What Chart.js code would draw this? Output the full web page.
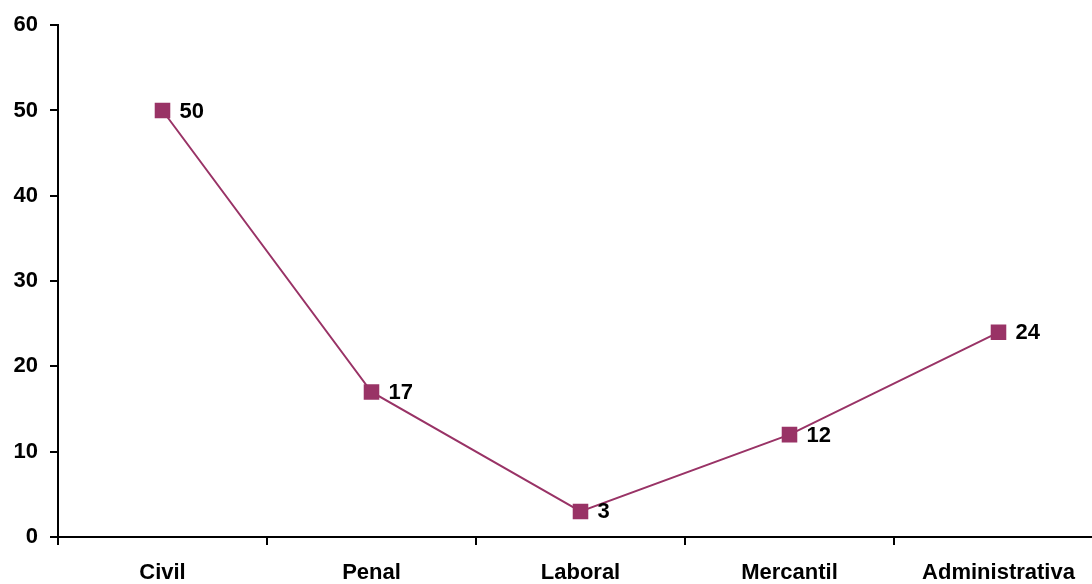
<!DOCTYPE html>
<html>
<head>
<meta charset="utf-8">
<script src="https://cdn.jsdelivr.net/npm/chart.js@4/dist/chart.umd.min.js"></script>
<style>
  html, body { margin: 0; padding: 0; overflow: hidden; background: #fff; }
  canvas { display: block; }
</style>
</head>
<body>
<canvas id="lineChart" width="1104" height="584"></canvas>
<script>
var categories = ["Civil", "Penal", "Laboral", "Mercantil", "Administrativa"];
var values = [50, 17, 3, 12, 24];
var yTicks = [0, 10, 20, 30, 40, 50, 60];

var lineColor = "#993366";
var fontFamily = "'Liberation Sans', Arial, sans-serif";

// draw the value next to each marker
var valueLabels = {
  id: "valueLabels",
  afterDatasetsDraw: function (chart) {
    var ctx = chart.ctx;
    var meta = chart.getDatasetMeta(0);
    ctx.save();
    ctx.font = "bold 22px " + fontFamily;
    ctx.fillStyle = "#000";
    ctx.textAlign = "left";
    ctx.textBaseline = "middle";
    meta.data.forEach(function (pt, i) {
      ctx.fillText(String(values[i]), pt.x + 17, pt.y + 1);
    });
    ctx.restore();
  }
};

var ctx = document.getElementById("lineChart").getContext("2d");
new Chart(ctx, {
  type: "line",
  data: {
    labels: categories,
    datasets: [{
      data: values,
      borderColor: lineColor,
      borderWidth: 2,
      backgroundColor: lineColor,
      pointStyle: "rect",
      pointRadius: 11,
      pointBorderWidth: 0,
      pointBackgroundColor: lineColor,
      tension: 0,
      fill: false
    }]
  },
  options: {
    responsive: false,
    animation: false,
    layout: { autoPadding: false, padding: { top: 25, right: 1, left: 0, bottom: 0 } },
    plugins: {
      legend: { display: false },
      tooltip: { enabled: false }
    },
    scales: {
      x: {
        type: "category",
        offset: true,
        grid: { display: true, drawOnChartArea: false, drawTicks: true, tickLength: 8, color: "#000", lineWidth: 2, offset: true },
        border: { display: true, color: "#000", width: 2 },
        ticks: { color: "#000", font: { family: fontFamily, size: 22, weight: "bold" }, padding: 15, maxRotation: 0, autoSkip: false },
        afterFit: function (scale) { scale.height = 47; }
      },
      y: {
        min: 0,
        max: 60,
        afterBuildTicks: function (scale) {
          scale.ticks = yTicks.map(function (v) { return { value: v }; });
        },
        grid: { display: true, drawOnChartArea: false, drawTicks: true, tickLength: 8, color: "#000", lineWidth: 2 },
        border: { display: true, color: "#000", width: 2 },
        ticks: { color: "#000", font: { family: fontFamily, size: 22, weight: "bold" }, padding: 12 },
        afterFit: function (scale) { scale.width = 58; }
      }
    }
  },
  plugins: [valueLabels]
});
</script>
</body>
</html>
